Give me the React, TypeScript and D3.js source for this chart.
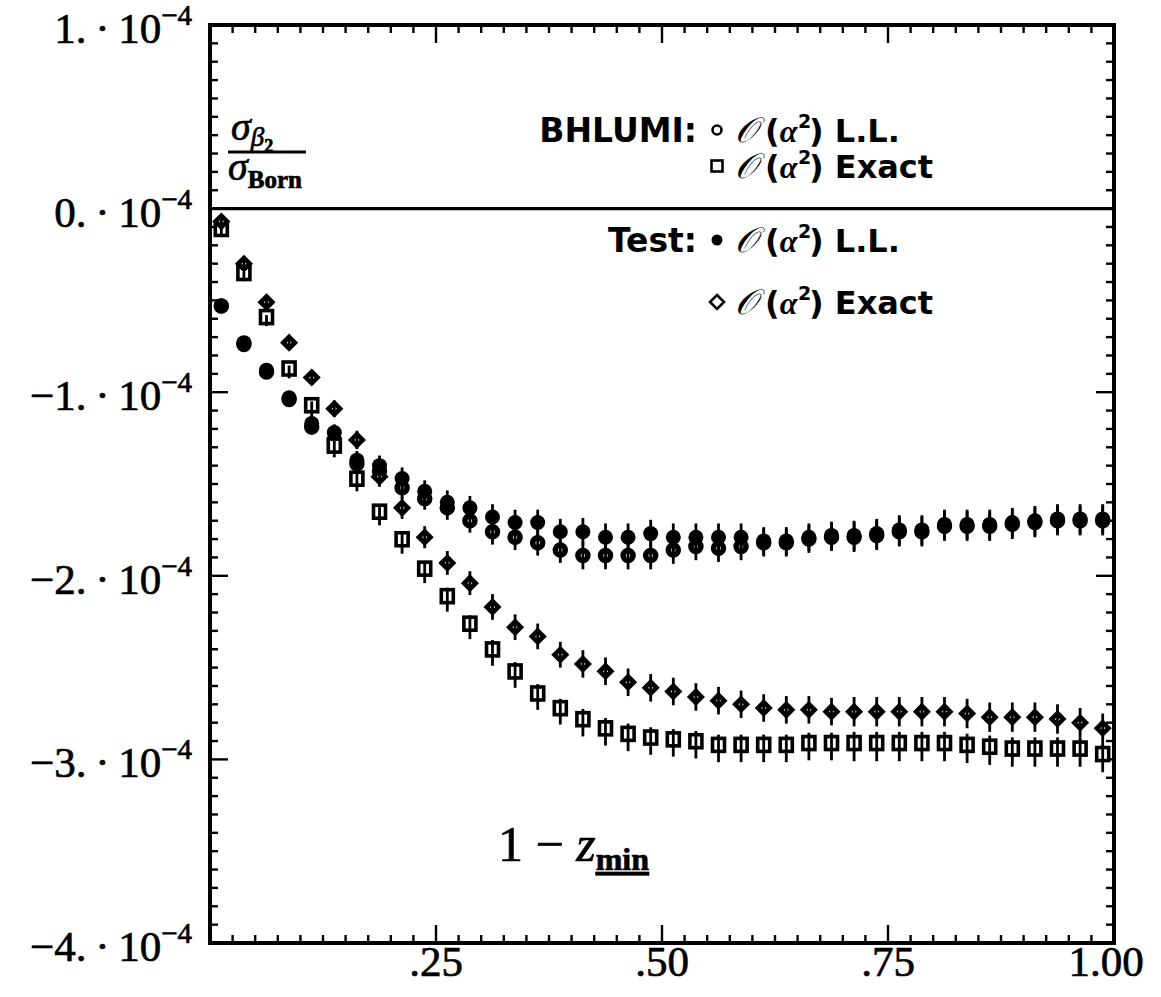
import React from 'react';
import * as d3 from 'd3';

const W = 1161;
const H = 997;
const PLOT = { left: 210, right: 1114, top: 25, bottom: 943 };

// bin centres of 1 - z_min
const xBins = [
  0.0125, 0.0375, 0.0625, 0.0875, 0.1125, 0.1375, 0.1625, 0.1875, 0.2125, 0.2375,
  0.2625, 0.2875, 0.3125, 0.3375, 0.3625, 0.3875, 0.4125, 0.4375, 0.4625, 0.4875,
  0.5125, 0.5375, 0.5625, 0.5875, 0.6125, 0.6375, 0.6625, 0.6875, 0.7125, 0.7375,
  0.7625, 0.7875, 0.8125, 0.8375, 0.8625, 0.8875, 0.9125, 0.9375, 0.9625, 0.9875,
];

// values in units of 1e-4
const bhlumiLL = [
  -0.53, -0.74, -0.89, -1.04, -1.19, -1.26, -1.39, -1.43, -1.52, -1.58,
  -1.63, -1.70, -1.76, -1.79, -1.82, -1.86, -1.89, -1.89, -1.89, -1.89,
  -1.86, -1.84, -1.85, -1.84, -1.82, -1.82, -1.80, -1.79, -1.79, -1.78,
  -1.76, -1.76, -1.73, -1.73, -1.73, -1.72, -1.71, -1.70, -1.70, -1.70,
];
const bhlumiExact = [
  -0.13, -0.37, -0.61, -0.89, -1.09, -1.31, -1.49, -1.67, -1.82, -1.98,
  -2.13, -2.28, -2.42, -2.54, -2.66, -2.74, -2.80, -2.85, -2.88, -2.90,
  -2.91, -2.92, -2.94, -2.94, -2.94, -2.94, -2.93, -2.93, -2.93, -2.93,
  -2.93, -2.93, -2.93, -2.94, -2.95, -2.96, -2.96, -2.96, -2.96, -2.99,
];
const testLL = [
  -0.53, -0.73, -0.88, -1.03, -1.17, -1.22, -1.37, -1.40, -1.47, -1.54,
  -1.60, -1.63, -1.68, -1.71, -1.71, -1.76, -1.76, -1.79, -1.79, -1.77,
  -1.79, -1.79, -1.79, -1.79, -1.81, -1.81, -1.79, -1.78, -1.78, -1.77,
  -1.75, -1.75, -1.72, -1.72, -1.72, -1.71, -1.70, -1.69, -1.69, -1.69,
];
const testExact = [
  -0.07, -0.30, -0.51, -0.73, -0.92, -1.09, -1.26, -1.46, -1.63, -1.79,
  -1.93, -2.04, -2.17, -2.28, -2.33, -2.43, -2.48, -2.52, -2.58, -2.61,
  -2.63, -2.66, -2.68, -2.70, -2.72, -2.73, -2.73, -2.74, -2.74, -2.74,
  -2.74, -2.74, -2.74, -2.75, -2.77, -2.77, -2.77, -2.78, -2.80, -2.83,
];
// statistical errors, units of 1e-4
const errBhlumi = [
  0.02, 0.025, 0.03, 0.035, 0.04, 0.045, 0.05, 0.055, 0.06, 0.06,
  0.065, 0.065, 0.07, 0.07, 0.07, 0.07, 0.075, 0.075, 0.075, 0.075,
  0.075, 0.075, 0.075, 0.075, 0.075, 0.075, 0.075, 0.075, 0.08, 0.08,
  0.08, 0.08, 0.08, 0.08, 0.08, 0.08, 0.08, 0.08, 0.08, 0.08,
];
const errTest = [
  0.02, 0.025, 0.03, 0.035, 0.04, 0.045, 0.05, 0.055, 0.06, 0.06,
  0.065, 0.065, 0.07, 0.07, 0.07, 0.07, 0.075, 0.075, 0.075, 0.075,
  0.075, 0.075, 0.075, 0.075, 0.075, 0.075, 0.075, 0.075, 0.08, 0.08,
  0.08, 0.08, 0.08, 0.08, 0.08, 0.08, 0.08, 0.08, 0.08, 0.08,
];

const yTickValues = [1, 0, -1, -2, -3, -4];
const yTickMantissas = ['1.', '0.', '\u22121.', '\u22122.', '\u22123.', '\u22124.'];
const xTickValues = [0.25, 0.5, 0.75, 1.0];
const xTickLabels = ['.25', '.50', '.75', '1.00'];

const legendGroups = ['BHLUMI:', '', 'Test:', ''];
const legendTexts = ['L.L.', 'Exact', 'L.L.', 'Exact'];

const SERIF = '"Liberation Serif", "DejaVu Serif", serif';
const SANS = '"DejaVu Sans", "Open Sans", sans-serif';

export default function App() {
  const x = d3.scaleLinear().domain([0, 1]).range([PLOT.left, PLOT.right]);
  const y = d3.scaleLinear().domain([-4, 1]).range([PLOT.bottom, PLOT.top]);

  const minorX = d3.range(0, 41).map((i) => i * 0.025);
  const minorY = d3.range(0, 51).map((i) => -4 + i * 0.1);

  const bar = (vals: number[], errs: number[], key: string) =>
    xBins.map((xv, i) => (
      <line
        key={key + i}
        x1={x(xv)}
        x2={x(xv)}
        y1={y(vals[i] - errs[i])}
        y2={y(vals[i] + errs[i])}
        stroke="#000"
        strokeWidth={2.8}
      />
    ));

  const diamond = (cx: number, cy: number, r: number) =>
    `M${cx},${cy - r}L${cx + r},${cy}L${cx},${cy + r}L${cx - r},${cy}Z`;

  const legendY = [130, 166, 240, 302];
  const legendKinds = ['openCircle', 'square', 'filled', 'diamond'];

  const legendMarker = (kind: string, cx: number, cy: number) => {
    if (kind === 'openCircle')
      return <circle cx={cx} cy={cy} r={4.5} fill="#fff" stroke="#000" strokeWidth={2.6} />;
    if (kind === 'filled') return <circle cx={cx} cy={cy} r={5.5} fill="#000" />;
    if (kind === 'square')
      return <rect x={cx - 5.5} y={cy - 5.5} width={11} height={11} fill="#fff" stroke="#000" strokeWidth={2.6} />;
    return <path d={diamond(cx, cy, 7)} fill="#fff" stroke="#000" strokeWidth={2.6} />;
  };

  const serifInk = { stroke: '#000', strokeWidth: 0.7 };

  return (
    <svg
      width={W}
      height={H}
      style={{ position: 'absolute', left: 0, top: 0, background: '#fff' }}
    >
      <rect x={0} y={0} width={W} height={H} fill="#fff" />

      {/* ticks bottom & top */}
      {minorX.map((v, i) => {
        const major = Math.abs(v / 0.25 - Math.round(v / 0.25)) < 1e-6;
        const len = major ? 18 : 8;
        return (
          <g key={'tx' + i}>
            <line x1={x(v)} x2={x(v)} y1={PLOT.bottom} y2={PLOT.bottom - len} stroke="#000" strokeWidth={2.4} />
            <line x1={x(v)} x2={x(v)} y1={PLOT.top} y2={PLOT.top + len} stroke="#000" strokeWidth={2.4} />
          </g>
        );
      })}
      {/* ticks left & right */}
      {minorY.map((v, i) => {
        const major = Math.abs(v - Math.round(v)) < 1e-6;
        const len = major ? 18 : 8;
        return (
          <g key={'ty' + i}>
            <line x1={PLOT.left} x2={PLOT.left + len} y1={y(v)} y2={y(v)} stroke="#000" strokeWidth={2.4} />
            <line x1={PLOT.right} x2={PLOT.right - len} y1={y(v)} y2={y(v)} stroke="#000" strokeWidth={2.4} />
          </g>
        );
      })}

      {/* frame */}
      <rect
        x={PLOT.left}
        y={PLOT.top}
        width={PLOT.right - PLOT.left}
        height={PLOT.bottom - PLOT.top}
        fill="none"
        stroke="#000"
        strokeWidth={4}
      />
      {/* zero line */}
      <line x1={PLOT.left} x2={PLOT.right} y1={y(0)} y2={y(0)} stroke="#000" strokeWidth={3.2} />

      {/* y tick labels */}
      {yTickValues.map((v, i) => (
        <text
          key={'yl' + i}
          x={192}
          y={y(v) + 18}
          textAnchor="end"
          fontFamily={SERIF}
          fontSize={43}
          fill="#000"
          {...serifInk}
        >
          {yTickMantissas[i]}
          {'\u2009\u00B7\u200910'}
          <tspan fontSize={29} dy={-18}>
            {'\u22124'}
          </tspan>
        </text>
      ))}

      {/* x tick labels */}
      {xTickValues.map((v, i) => (
        <text
          key={'xl' + i}
          x={v === 1 ? x(v) - 8 : x(v)}
          y={976}
          textAnchor="middle"
          fontFamily={SERIF}
          fontSize={43}
          fill="#000"
          {...serifInk}
        >
          {xTickLabels[i]}
        </text>
      ))}

      {/* x axis title inside plot */}
      <text x={498} y={861} fontFamily={SERIF} fontSize={50} fill="#000" {...serifInk}>
        {'1 \u2212 '}
        <tspan fontStyle="italic">z</tspan>
        <tspan fontSize={32} fontWeight="bold" dy={9} textDecoration="underline">
          min
        </tspan>
      </text>

      {/* y axis title: sigma_beta2 / sigma_Born */}
      <text x={231} y={140} fontFamily={SERIF} fontSize={40} fontStyle="italic" fill="#000" {...serifInk}>
        σ
        <tspan fontSize={27} dy={6}>
          β
        </tspan>
        <tspan fontSize={18} fontStyle="normal" fontWeight="bold" dy={6}>
          2
        </tspan>
      </text>
      <line x1={228} x2={306} y1={152} y2={152} stroke="#000" strokeWidth={3} />
      <text x={228} y={180} fontFamily={SERIF} fontSize={40} fontStyle="italic" fill="#000" {...serifInk}>
        σ
        <tspan fontSize={25} fontStyle="normal" fontWeight="bold" dy={8}>
          Born
        </tspan>
      </text>

      {/* legend */}
      {legendY.map((ly, i) => (
        <g key={'lg' + i}>
          {legendGroups[i] && (
            <text
              x={697}
              y={ly + 12}
              textAnchor="end"
              fontFamily={SANS}
              fontWeight="bold"
              fontSize={33}
              fill="#000"
            >
              {legendGroups[i]}
            </text>
          )}
          {legendMarker(legendKinds[i], 717, ly)}
          <text x={735} y={ly + 12} fontFamily={SERIF} fontStyle="italic" fontSize={35} fill="#000">
            {'\uD835\uDCAA'}
          </text>
          <text x={765} y={ly + 12} fontFamily={SANS} fontWeight="bold" fontSize={32} fill="#000">
            {'('}
            <tspan fontFamily={SERIF} fontStyle="italic" fontWeight="bold">
              α
            </tspan>
          </text>
          <text x={798} y={ly - 2} fontFamily={SANS} fontWeight="bold" fontSize={19} fill="#000">
            2
          </text>
          <text x={809} y={ly + 12} fontFamily={SANS} fontWeight="bold" fontSize={32} fill="#000">
            {') ' + legendTexts[i]}
          </text>
        </g>
      ))}

      {/* BHLUMI L.L. open circles */}
      {xBins.map((xv, i) => (
        <circle key={'a' + i} cx={x(xv)} cy={y(bhlumiLL[i])} r={5} fill="#fff" stroke="#000" strokeWidth={5.5} />
      ))}
      {bar(bhlumiLL, errBhlumi, 'ea')}

      {/* Test L.L. filled circles */}
      {xBins.map((xv, i) => (
        <circle key={'c' + i} cx={x(xv)} cy={y(testLL[i])} r={7.5} fill="#000" />
      ))}
      {bar(testLL, errTest, 'ec')}

      {/* BHLUMI exact open squares */}
      {xBins.map((xv, i) => (
        <rect
          key={'b' + i}
          x={x(xv) - 6}
          y={y(bhlumiExact[i]) - 10}
          width={12}
          height={13}
          fill="#fff"
          stroke="#000"
          strokeWidth={3.6}
        />
      ))}
      {bar(bhlumiExact, errBhlumi, 'eb')}

      {/* Test exact open diamonds */}
      {xBins.map((xv, i) => (
        <path
          key={'d' + i}
          d={diamond(x(xv), y(testExact[i]), 5.8)}
          fill="#fff"
          stroke="#000"
          strokeWidth={4.6}
        />
      ))}
      {bar(testExact, errTest, 'ed')}
    </svg>
  );
}
